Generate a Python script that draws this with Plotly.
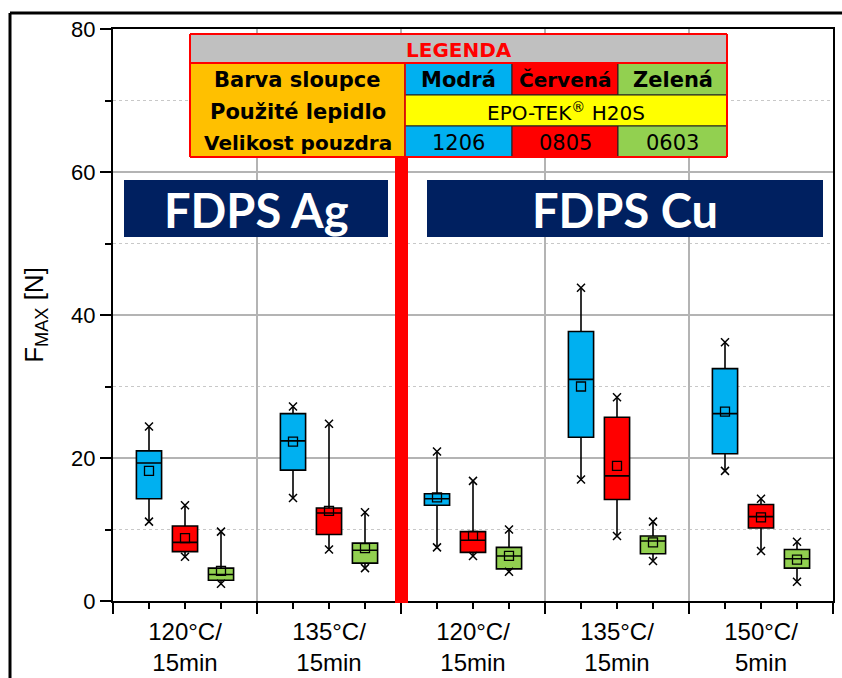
import plotly.graph_objects as go

# ---------------- data ----------------
categories = ["120°C/<br>15min", "135°C/<br>15min", "120°C/<br>15min",
              "135°C/<br>15min", "150°C/<br>5min"]
series_names = ["1206 (Modrá)", "0805 (Červená)", "0603 (Zelená)"]

blue_q1 = [14.3, 18.3, 13.4, 22.9, 20.6]
blue_med = [19.3, 22.4, 14.3, 31.0, 26.2]
blue_q3 = [21.0, 26.2, 15.0, 37.7, 32.5]
blue_min = [11.1, 14.4, 7.5, 17.0, 18.2]
blue_max = [24.4, 27.2, 20.9, 43.8, 36.2]
blue_mean = [18.2, 22.3, 14.5, 30.0, 26.5]

red_q1 = [6.9, 9.3, 6.8, 14.2, 10.2]
red_med = [8.2, 12.3, 8.5, 17.5, 11.8]
red_q3 = [10.5, 13.0, 9.7, 25.7, 13.5]
red_min = [6.2, 7.2, 6.3, 9.1, 7.0]
red_max = [13.4, 24.8, 16.8, 28.5, 14.3]
red_mean = [8.8, 12.6, 9.1, 18.9, 11.7]

green_q1 = [2.9, 5.3, 4.5, 6.6, 4.6]
green_med = [3.7, 7.1, 6.3, 8.4, 5.9]
green_q3 = [4.6, 8.1, 7.5, 9.1, 7.2]
green_min = [2.4, 4.6, 4.1, 5.6, 2.7]
green_max = [9.7, 12.4, 10.0, 11.1, 8.3]
green_mean = [4.2, 7.4, 6.3, 8.2, 5.8]

y_ticks = [0, 20, 40, 60, 80]

# ---------------- styling ----------------
colors = ["#00B0F0", "#FF0000", "#92D050"]
FONT = "Liberation Sans, Arial, sans-serif"
BFONT = "Lato, sans-serif"
TFONT = "DejaVu Sans, sans-serif"

W, H = 842, 678
L, R, T, B = 113, 9, 29, 77
PW, PH = W - L - R, H - T - B


def px(x):
    return (x - L) / PW


def py(y):
    return (H - B - y) / PH


fig = go.Figure()

stats = [
    (blue_q1, blue_med, blue_q3, blue_min, blue_max, blue_mean),
    (red_q1, red_med, red_q3, red_min, red_max, red_mean),
    (green_q1, green_med, green_q3, green_min, green_max, green_mean),
]

for k, (q1, med, q3, mn, mx, mean) in enumerate(stats):
    xs = [4 * g + k + 1 for g in range(len(categories))]
    fig.add_trace(go.Box(
        x=xs, q1=q1, median=med, q3=q3, lowerfence=mn, upperfence=mx,
        name=series_names[k], fillcolor=colors[k],
        line=dict(color="black", width=1.6), width=0.7, whiskerwidth=0,
        boxpoints=False, showlegend=False, xaxis="x", yaxis="y"))
    fig.add_trace(go.Scatter(
        x=xs + xs, y=mn + mx, mode="markers", showlegend=False,
        marker=dict(symbol="x-thin", size=8, color="black",
                    line=dict(width=1.5, color="black"))))
    fig.add_trace(go.Scatter(
        x=xs, y=mean, mode="markers", showlegend=False,
        marker=dict(symbol="square-open", size=9, color="black",
                    line=dict(width=1.3, color="black"))))

# invisible trace to activate label axis
fig.add_trace(go.Scatter(x=[2, 18], y=[0, 0], xaxis="x2", yaxis="y",
                         mode="markers", marker=dict(opacity=0),
                         showlegend=False, hoverinfo="skip"))

shapes = []
annotations = []

# outer frame (screenshot border)
shapes.append(dict(type="line", xref="paper", yref="paper", x0=px(10), x1=px(10),
                   y0=py(13), y1=py(H + 5), line=dict(color="black", width=3)))
shapes.append(dict(type="line", xref="paper", yref="paper", x0=px(10), x1=px(W + 5),
                   y0=py(13), y1=py(13), line=dict(color="black", width=3)))

# red separator bar
shapes.append(dict(type="rect", xref="paper", yref="paper", x0=px(395), x1=px(408),
                   y0=py(603), y1=py(157), fillcolor="#FF0000", line=dict(width=0),
                   layer="above"))

# banners
NAVY = "#002060"
for (x0, x1, t) in [(124, 388, "FDPS Ag"), (427, 823, "FDPS Cu")]:
    shapes.append(dict(type="rect", xref="paper", yref="paper", x0=px(x0), x1=px(x1),
                       y0=py(237), y1=py(180), fillcolor=NAVY, line=dict(width=0),
                       layer="above"))
    annotations.append(dict(xref="paper", yref="paper", x=px((x0 + x1) / 2), y=py(210),
                            text="<b>" + t + "</b>", showarrow=False,
                            font=dict(family=BFONT, size=47, color="white"),
                            xanchor="center", yanchor="middle"))

# legend table
tx0, tx1 = 190, 727
c1, c2, c3 = 405, 512, 618
r0, r1, r2, r3, r4 = 34, 63, 95, 126, 157


def cell(x0, x1, y0, y1, fill):
    shapes.append(dict(type="rect", xref="paper", yref="paper", x0=px(x0), x1=px(x1),
                       y0=py(y1), y1=py(y0), fillcolor=fill,
                       line=dict(color="#202020", width=1), layer="above"))


def txt(x, y, s, bold=False, color="black", size=21):
    annotations.append(dict(xref="paper", yref="paper", x=px(x), y=py(y),
                            text=("<b>%s</b>" % s) if bold else s, showarrow=False,
                            font=dict(family=TFONT, size=size, color=color),
                            xanchor="center", yanchor="middle"))


cell(tx0, tx1, r0, r1, "#C0C0C0")
cell(tx0, c1, r1, r4, "#FFC000")
cell(c1, c2, r1, r2, colors[0])
cell(c2, c3, r1, r2, colors[1])
cell(c3, tx1, r1, r2, colors[2])
cell(c1, tx1, r2, r3, "#FFFF00")
cell(c1, c2, r3, r4, colors[0])
cell(c2, c3, r3, r4, colors[1])
cell(c3, tx1, r3, r4, colors[2])
for (a, b) in [(r0, r1), (r1, r2), (r2, r3), (r3, r4)]:
    shapes.append(dict(type="line", xref="paper", yref="paper", x0=px(tx0), x1=px(tx0),
                       y0=py(a), y1=py(b), line=dict(color="#FF0000", width=2), layer="above"))
    shapes.append(dict(type="line", xref="paper", yref="paper", x0=px(tx1), x1=px(tx1),
                       y0=py(a), y1=py(b), line=dict(color="#FF0000", width=2), layer="above"))
shapes.append(dict(type="line", xref="paper", yref="paper", x0=px(c1), x1=px(c1),
                   y0=py(r1), y1=py(r4), line=dict(color="#FF0000", width=1.5), layer="above"))
for yy in (r0, r1, r4):
    shapes.append(dict(type="line", xref="paper", yref="paper", x0=px(tx0), x1=px(tx1),
                       y0=py(yy), y1=py(yy), line=dict(color="#FF0000", width=2), layer="above"))

txt((tx0 + tx1) / 2, (r0 + r1) / 2 + 1, "LEGENDA", bold=True, color="#FF0000", size=20)
txt((tx0 + c1) / 2, (r1 + r2) / 2 + 1, "Barva sloupce", bold=True)
txt((c1 + c2) / 2, (r1 + r2) / 2 + 1, "Modrá", bold=True)
txt((c2 + c3) / 2, (r1 + r2) / 2 + 1, "Červená", bold=True, size=20)
txt((c3 + tx1) / 2, (r1 + r2) / 2 + 1, "Zelená", bold=True)
txt((tx0 + c1) / 2, (r2 + r3) / 2 + 1, "Použité lepidlo", bold=True)
txt((c1 + tx1) / 2, (r2 + r3) / 2 + 1, "EPO-TEK<sup>®</sup> H20S", size=20)
txt((tx0 + c1) / 2, (r3 + r4) / 2 + 1, "Velikost pouzdra", bold=True, size=20)
txt((c1 + c2) / 2, (r3 + r4) / 2 + 1, "1206")
txt((c2 + c3) / 2, (r3 + r4) / 2 + 1, "0805")
txt((c3 + tx1) / 2, (r3 + r4) / 2 + 1, "0603")

fig.update_layout(
    width=W, height=H,
    margin=dict(l=L, r=R, t=T, b=B, pad=0, autoexpand=False),
    paper_bgcolor="white", plot_bgcolor="white",
    font=dict(family=FONT, color="black"),
    shapes=shapes, annotations=annotations,
    showlegend=False,
    xaxis=dict(range=[0, 20], tickvals=[0, 4, 8, 12, 16, 20], showticklabels=False,
               ticks="outside", ticklen=11, tickwidth=2, tickcolor="black",
               showline=True, linecolor="black", linewidth=2, mirror=True,
               showgrid=True, gridcolor="#B4B4B4", gridwidth=1.5, zeroline=False,
               automargin=False,
               minor=dict(dtick=1, tick0=0, ticks="outside", ticklen=6, tickwidth=1.6,
                          tickcolor="black", showgrid=False)),
    xaxis2=dict(range=[0, 20], overlaying="x", anchor="y", side="bottom",
                tickvals=[2, 6, 10, 14, 18], ticktext=categories, ticks="",
                showgrid=False, showline=False, zeroline=False, automargin=False,
                tickfont=dict(size=24, family=FONT), ticklabelstandoff=14),
    yaxis=dict(range=[0, 80], tickvals=y_ticks, ticks="outside", ticklen=11, tickwidth=2,
               tickcolor="black", showline=True, linecolor="black", linewidth=2, mirror=True,
               showgrid=True, gridcolor="#B4B4B4", gridwidth=1.5, zeroline=False,
               automargin=False, tickfont=dict(size=22, family=FONT),
               title=dict(text="F<sub>MAX</sub> [N]", font=dict(size=26, family=FONT),
                          standoff=20),
               minor=dict(dtick=10, tick0=0, ticks="outside", ticklen=6, tickwidth=1.6,
                          tickcolor="black", showgrid=True, gridcolor="#C8C8C8",
                          griddash="dot", gridwidth=1.2)),
)

fig.write_html("out.html")
